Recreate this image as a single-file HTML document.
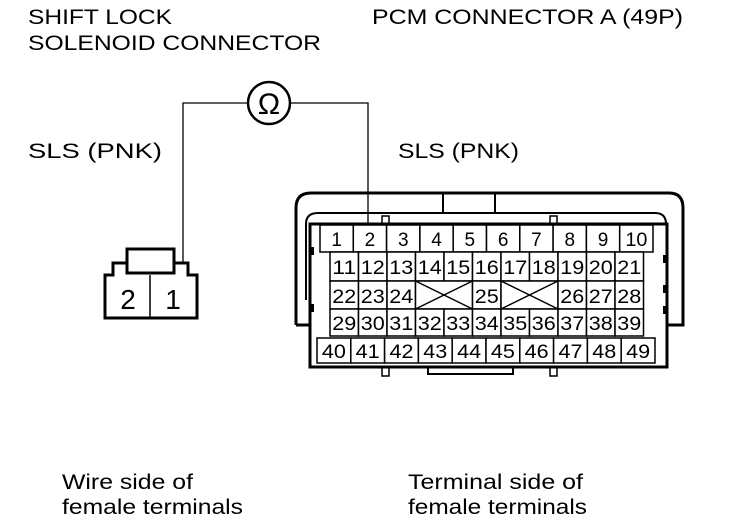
<!DOCTYPE html>
<html><head><style>
body{margin:0;background:#fff}
svg{display:block}
text{font-family:"Liberation Sans",Arial,sans-serif;fill:#000}
</style></head><body>
<svg width="752" height="522" viewBox="0 0 752 522" xmlns="http://www.w3.org/2000/svg">
<g font-size="21">
<text x="28" y="24" textLength="144" lengthAdjust="spacingAndGlyphs">SHIFT LOCK</text>
<text x="28" y="50" textLength="293" lengthAdjust="spacingAndGlyphs">SOLENOID CONNECTOR</text>
<text x="372" y="24" textLength="311" lengthAdjust="spacingAndGlyphs">PCM CONNECTOR A (49P)</text>
<text x="28" y="158" textLength="134" lengthAdjust="spacingAndGlyphs">SLS (PNK)</text>
<text x="398" y="158" textLength="121" lengthAdjust="spacingAndGlyphs">SLS (PNK)</text>
<text x="62" y="489" textLength="131" lengthAdjust="spacingAndGlyphs">Wire side of</text>
<text x="62" y="514" textLength="181" lengthAdjust="spacingAndGlyphs">female terminals</text>
<text x="408" y="489" textLength="175" lengthAdjust="spacingAndGlyphs">Terminal side of</text>
<text x="408" y="514" textLength="179" lengthAdjust="spacingAndGlyphs">female terminals</text>
</g>
<g fill="none" stroke="#000" stroke-width="1.3">
<polyline points="183,262 183,103 247,103"/>
<polyline points="291,103 368,103 368,224"/>
<circle cx="269" cy="103" r="21" stroke-width="2.5"/>
</g>
<text x="269" y="114" font-size="30" text-anchor="middle">Ω</text>
<g fill="none" stroke="#000" stroke-width="3">
<path d="M105,318 V275 H113 V263 H127 V273 H173 V263 H188 V275 H197 V318 Z" fill="#fff"/>
<rect x="127" y="249" width="47" height="24" fill="#fff"/>
</g>
<line x1="150" y1="275" x2="150" y2="318" stroke="#000" stroke-width="1.5"/>
<text x="128" y="309" font-size="28" text-anchor="middle">2</text>
<text x="173" y="309" font-size="28" text-anchor="middle">1</text>
<g fill="none" stroke="#000">
<path d="M296,325 V208 Q296,193 311,193 H669 Q683,193 683,208 V325 H667" stroke-width="3"/>
<path d="M296,325 H310" stroke-width="3"/>
<rect x="443" y="193" width="52" height="20" stroke-width="2"/>
<path d="M306,300 V224 Q306,213 318,213 H655 Q666,213 666,224 V325" stroke-width="2"/>
<rect x="310" y="224" width="357" height="143" stroke-width="3" fill="#fff"/>
<rect x="382" y="216" width="7" height="8" stroke-width="1.5"/>
<rect x="550" y="216" width="7" height="8" stroke-width="1.5"/>
<rect x="382" y="367" width="7" height="9" stroke-width="1.5"/>
<rect x="550" y="367" width="7" height="9" stroke-width="1.5"/>
<path d="M428,367 V374 H513 V367" stroke-width="2"/>
</g>
<g fill="#000">
<rect x="310" y="247" width="4" height="8"/>
<rect x="310" y="304" width="4" height="8"/>
<rect x="663" y="255" width="4" height="8"/>
<rect x="663" y="285" width="4" height="8"/>
<rect x="663" y="306" width="4" height="8"/>
</g>
<g stroke="#000" stroke-width="1.5" fill="#fff" id="cells"></g>
<g font-size="19" text-anchor="middle" id="nums"></g>
</svg>
<script>
var ns="http://www.w3.org/2000/svg",c=document.getElementById("cells"),n=document.getElementById("nums");
function R(x,y,w,h){var r=document.createElementNS(ns,"rect");r.setAttribute("x",x);r.setAttribute("y",y);r.setAttribute("width",w);r.setAttribute("height",h);c.appendChild(r);}
function L(a,b,d,e){var l=document.createElementNS(ns,"line");l.setAttribute("x1",a);l.setAttribute("y1",b);l.setAttribute("x2",d);l.setAttribute("y2",e);c.appendChild(l);}
function T(x,y,s,tl){var t=document.createElementNS(ns,"text");t.setAttribute("x",x);t.setAttribute("y",y);if(tl){t.setAttribute("textLength",tl);t.setAttribute("lengthAdjust","spacingAndGlyphs");}t.textContent=s;n.appendChild(t);}
var w1=33.3;for(var i=0;i<10;i++){R(320+i*w1,225,w1,27);T(320+i*w1+w1/2,246,i+1,i==9?22:0);}
var w2=28.5,x0=330;
for(var i=0;i<11;i++){R(x0+i*w2,252,w2,29);T(x0+i*w2+w2/2,274,11+i,24);}
var r3=[["22",0,1],["23",1,1],["24",2,1],["X",3,2],["25",5,1],["X",6,2],["26",8,1],["27",9,1],["28",10,1]];
r3.forEach(function(a){var x=x0+a[1]*w2,w=a[2]*w2;R(x,281,w,28);if(a[0]=="X"){L(x,281,x+w,309);L(x,309,x+w,281);}else T(x+w/2,303,a[0],24);});
for(var i=0;i<11;i++){R(x0+i*w2,309,w2,27);T(x0+i*w2+w2/2,330,29+i,24);}
var w5=33.8;for(var i=0;i<10;i++){R(317+i*w5,338,w5,25);T(317+i*w5+w5/2,358,40+i,24);}
</script>
</body></html>
